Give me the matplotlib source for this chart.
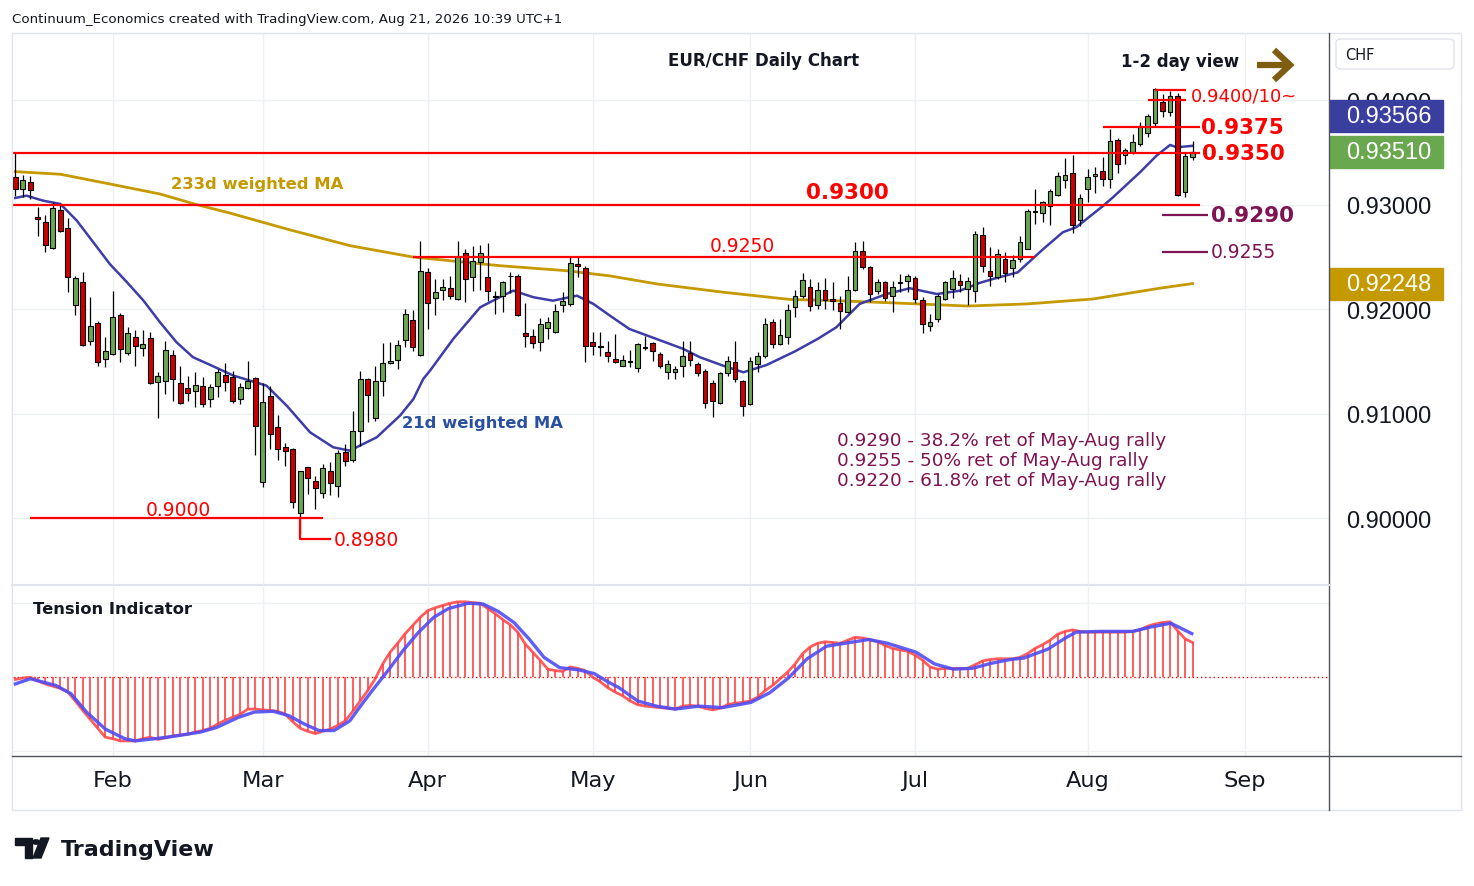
import numpy as np
import pandas as pd
import matplotlib
matplotlib.use("Agg")
import matplotlib.pyplot as plt
from matplotlib.patches import Rectangle, FancyBboxPatch, Polygon, Circle
from matplotlib.lines import Line2D

W, H = 1474, 887

# ---- daily EUR/CHF candles, 14 Jan .. 21 Aug 2026 ----
dates = pd.bdate_range("2026-01-14", "2026-08-21")

opens = [
    0.93265, 0.93153, 0.93217, 0.92882, 0.92840, 0.92586, 0.92949, 0.92777, 0.92043, 0.92266,
    0.91698, 0.91868, 0.91526, 0.91574, 0.91944, 0.91584, 0.91734, 0.91629, 0.91724, 0.91303,
    0.91316, 0.91562, 0.91294, 0.91249, 0.91220, 0.91271, 0.91143, 0.91271, 0.91373, 0.91351,
    0.91143, 0.91246, 0.91344, 0.90346, 0.91169, 0.90873, 0.90681, 0.90665, 0.90050, 0.90490,
    0.90356, 0.90241, 0.90452, 0.90308, 0.90633, 0.90560, 0.90834, 0.91332, 0.90959, 0.91313,
    0.91485, 0.91517, 0.91708, 0.91899, 0.91567, 0.92356, 0.92107, 0.92184, 0.92203, 0.92100,
    0.92538, 0.92308, 0.92452, 0.92308, 0.92125, 0.92126, 0.92320, 0.92318, 0.91772, 0.91749,
    0.91686, 0.91820, 0.91782, 0.92043, 0.92053, 0.92433, 0.92394, 0.91686, 0.91645, 0.91590,
    0.91526, 0.91462, 0.91500, 0.91437, 0.91640, 0.91677, 0.91571, 0.91399, 0.91399, 0.91456,
    0.91581, 0.91476, 0.91414, 0.91299, 0.91102, 0.91392, 0.91500, 0.91319, 0.91093, 0.91476,
    0.91558, 0.91877, 0.91667, 0.91734, 0.92021, 0.92132, 0.92212, 0.92043, 0.92189, 0.92100,
    0.92062, 0.91973, 0.92189, 0.92563, 0.92404, 0.92180, 0.92260, 0.92126, 0.92258, 0.92270,
    0.92299, 0.92094, 0.91839, 0.91909, 0.92100, 0.92196, 0.92276, 0.92196, 0.92180, 0.92713,
    0.92371, 0.92308, 0.92483, 0.92394, 0.92483, 0.92579, 0.92938, 0.92923, 0.92988, 0.93096,
    0.93239, 0.93309, 0.92859, 0.93153, 0.93275, 0.93328, 0.93249, 0.93625, 0.93479, 0.93504,
    0.93584, 0.93689, 0.93785, 0.93983, 0.93887, 0.94040, 0.93122, 0.93456]

highs = [
    0.93498, 0.93287, 0.93280, 0.92978, 0.92904, 0.93032, 0.93010, 0.92873, 0.92323, 0.92356,
    0.92117, 0.91893, 0.91734, 0.92174, 0.91966, 0.91830, 0.91807, 0.91807, 0.91787, 0.91399,
    0.91698, 0.91615, 0.91456, 0.91361, 0.91399, 0.91351, 0.91287, 0.91430, 0.91488, 0.91414,
    0.91297, 0.91504, 0.91351, 0.91297, 0.91271, 0.90990, 0.90722, 0.90672, 0.90452, 0.90496,
    0.90409, 0.90521, 0.90538, 0.90658, 0.90713, 0.91026, 0.91409, 0.91344, 0.91462, 0.91679,
    0.91686, 0.91708, 0.92005, 0.91995, 0.92658, 0.92394, 0.92292, 0.92292, 0.92318, 0.92653,
    0.92579, 0.92611, 0.92617, 0.92636, 0.92180, 0.92276, 0.92356, 0.92340, 0.92062, 0.91813,
    0.91916, 0.91925, 0.92053, 0.92170, 0.92500, 0.92500, 0.92413, 0.91782, 0.91782, 0.91701,
    0.91766, 0.91567, 0.91612, 0.91679, 0.91749, 0.91686, 0.91590, 0.91517, 0.91462, 0.91696,
    0.91701, 0.91495, 0.91430, 0.91328, 0.91404, 0.91558, 0.91701, 0.91328, 0.91543, 0.91597,
    0.91916, 0.91909, 0.91909, 0.92053, 0.92187, 0.92349, 0.92292, 0.92260, 0.92299, 0.92260,
    0.92132, 0.92323, 0.92643, 0.92658, 0.92419, 0.92292, 0.92276, 0.92276, 0.92340, 0.92340,
    0.92323, 0.92117, 0.91957, 0.92148, 0.92276, 0.92378, 0.92340, 0.92308, 0.92754, 0.92792,
    0.92595, 0.92579, 0.92547, 0.92519, 0.92706, 0.92962, 0.93153, 0.93041, 0.93153, 0.93313,
    0.93450, 0.93481, 0.93105, 0.93345, 0.93361, 0.93456, 0.93727, 0.93638, 0.93543, 0.93679,
    0.93791, 0.93871, 0.94117, 0.94062, 0.94094, 0.94072, 0.93498, 0.93610]

lows = [
    0.93089, 0.93074, 0.93057, 0.92706, 0.92553, 0.92579, 0.92739, 0.92165, 0.91947, 0.91650,
    0.91660, 0.91462, 0.91447, 0.91560, 0.91495, 0.91565, 0.91456, 0.91552, 0.91287, 0.90959,
    0.91188, 0.91127, 0.91100, 0.91127, 0.91064, 0.91064, 0.91064, 0.91160, 0.91217, 0.91105,
    0.91096, 0.91240, 0.90610, 0.90298, 0.90665, 0.90563, 0.90499, 0.90097, 0.89850, 0.90234,
    0.90091, 0.90193, 0.90228, 0.90203, 0.90499, 0.90538, 0.90691, 0.90920, 0.90936, 0.91175,
    0.91480, 0.91431, 0.91638, 0.91600, 0.91558, 0.91813, 0.91947, 0.92094, 0.92100, 0.92095,
    0.92069, 0.92180, 0.92189, 0.92084, 0.91957, 0.91979, 0.92158, 0.91935, 0.91638, 0.91629,
    0.91606, 0.91718, 0.91778, 0.91973, 0.92031, 0.92308, 0.91500, 0.91565, 0.91558, 0.91500,
    0.91488, 0.91458, 0.91447, 0.91399, 0.91615, 0.91510, 0.91437, 0.91335, 0.91335, 0.91351,
    0.91462, 0.91366, 0.91054, 0.90969, 0.91095, 0.91366, 0.91303, 0.90978, 0.91085, 0.91399,
    0.91533, 0.91629, 0.91660, 0.91670, 0.91925, 0.92107, 0.91983, 0.92005, 0.92005, 0.91998,
    0.91813, 0.91965, 0.92180, 0.92388, 0.92075, 0.92148, 0.92084, 0.91979, 0.92165, 0.92165,
    0.92062, 0.91778, 0.91797, 0.91877, 0.92094, 0.92110, 0.92170, 0.92043, 0.92075, 0.92362,
    0.92222, 0.92292, 0.92260, 0.92308, 0.92452, 0.92575, 0.92818, 0.92834, 0.92809, 0.93089,
    0.93160, 0.92732, 0.92802, 0.93026, 0.93112, 0.93179, 0.93160, 0.93303, 0.93392, 0.93488,
    0.93567, 0.93648, 0.93744, 0.93839, 0.93849, 0.93083, 0.93074, 0.93434]

closes = [
    0.93153, 0.93242, 0.93141, 0.92863, 0.92617, 0.92968, 0.92751, 0.92311, 0.92299, 0.91660,
    0.91839, 0.91498, 0.91600, 0.91925, 0.91619, 0.91775, 0.91648, 0.91667, 0.91294, 0.91361,
    0.91609, 0.91335, 0.91105, 0.91201, 0.91280, 0.91093, 0.91255, 0.91399, 0.91303, 0.91127,
    0.91255, 0.91313, 0.90882, 0.91112, 0.90806, 0.90662, 0.90649, 0.90155, 0.90452, 0.90385,
    0.90289, 0.90480, 0.90340, 0.90624, 0.90547, 0.90834, 0.91332, 0.91182, 0.91313, 0.91485,
    0.91504, 0.91657, 0.91954, 0.91638, 0.92366, 0.92062, 0.92165, 0.92212, 0.92126, 0.92500,
    0.92292, 0.92467, 0.92538, 0.92174, 0.92120, 0.92260, 0.92325, 0.91950, 0.91743, 0.91679,
    0.91858, 0.91877, 0.91983, 0.92078, 0.92445, 0.92413, 0.91654, 0.91648, 0.91643, 0.91558,
    0.91495, 0.91517, 0.91505, 0.91667, 0.91636, 0.91600, 0.91456, 0.91476, 0.91431, 0.91558,
    0.91517, 0.91390, 0.91102, 0.91124, 0.91390, 0.91504, 0.91335, 0.91074, 0.91504, 0.91558,
    0.91864, 0.91670, 0.91753, 0.91992, 0.92132, 0.92285, 0.92031, 0.92189, 0.92094, 0.92084,
    0.91983, 0.92189, 0.92563, 0.92404, 0.92145, 0.92260, 0.92107, 0.92212, 0.92262, 0.92323,
    0.92100, 0.91861, 0.91877, 0.92126, 0.92260, 0.92299, 0.92234, 0.92270, 0.92722, 0.92413,
    0.92318, 0.92531, 0.92349, 0.92477, 0.92643, 0.92940, 0.92934, 0.93026, 0.93131, 0.93280,
    0.93290, 0.92809, 0.93064, 0.93265, 0.93294, 0.93249, 0.93610, 0.93392, 0.93526, 0.93600,
    0.93759, 0.93855, 0.94110, 0.93897, 0.94040, 0.93099, 0.93472, 0.93510]

# moving averages at bar offsets
ma21_x = [0, 1.5, 3.7, 6, 8.2, 10.4, 12.6, 14.9, 17.1, 19.3, 21.5, 23.7, 26, 29.1, 33.5,
          36.2, 39.3, 42.4, 44.6, 48.2, 51.3, 53.1, 54.4, 55.3, 58.4, 62, 64.6, 66.4, 69.1,
          71.7, 74.9, 77.1, 79.3, 81.9, 85.5, 89.1, 91.3, 94.4, 97.1, 100.2, 104, 107, 109.5,
          112.6, 116.2, 119.3, 122.9, 126, 128.6, 130.4, 133.7, 137.1, 139.7, 141.5, 145.1,
          146.4, 150, 152.2, 154, 154.9, 157]
ma21 = [0.93067, 0.93089, 0.93041, 0.93010, 0.92850, 0.92643, 0.92435, 0.92260, 0.92084,
        0.91877, 0.91686, 0.91543, 0.91469, 0.91367, 0.91271, 0.91079, 0.90825, 0.90681,
        0.90649, 0.90777, 0.90984, 0.91144, 0.91335, 0.91414, 0.91718, 0.92021, 0.92117,
        0.92180, 0.92117, 0.92084, 0.92132, 0.92053, 0.91941, 0.91813, 0.91718, 0.91622,
        0.91543, 0.91462, 0.91399, 0.91469, 0.91600, 0.91718, 0.91830, 0.92053, 0.92148,
        0.92203, 0.92148, 0.92180, 0.92254, 0.92292, 0.92356, 0.92579, 0.92739, 0.92787,
        0.92993, 0.93074, 0.93313, 0.93472, 0.93574, 0.93552, 0.93566]
ma233_x = [0, 6, 12.6, 19.3, 24.2, 28.6, 36.2, 44.6, 53, 64.6, 73.5, 79.3, 85.6, 94.4,
           103.3, 109.5, 117.4, 127, 134.9, 143.7, 152.6, 157]
ma233 = [0.93319, 0.93294, 0.93201, 0.93105, 0.93003, 0.92923, 0.92770, 0.92611, 0.92502,
         0.92419, 0.92371, 0.92321, 0.92244, 0.92165, 0.92096, 0.92084, 0.92062, 0.92033,
         0.92053, 0.92100, 0.92203, 0.92248]

# tension indicator (one value per bar) and its signal line
tension = [
    -3, -1, 0, -5, -9, -12, -15, -20, -32, -45, -57, -69, -81, -83, -86, -86, -86, -83, -81, -84,
    -82, -79, -78, -77, -74, -72, -69, -63, -58, -54, -50, -43, -43, -44, -45, -46, -50, -60, -69, -73,
    -76, -73, -70, -65, -59, -46, -32, -18, -2, 18, 34, 46, 59, 70, 81, 90, 94, 97, 100, 102,
    102, 101, 100, 93, 86, 78, 71, 61, 45, 34, 23, 11, 9, 8, 14, 12, 9, 0, -6, -14,
    -20, -25, -32, -37, -39, -40, -41, -42, -43, -39, -38, -39, -42, -44, -42, -37, -35, -34, -32, -27,
    -18, -11, -2, 7, 18, 32, 41, 46, 48, 47, 46, 50, 54, 53, 51, 48, 43, 39, 37, 35,
    30, 23, 14, 11, 12, 12, 12, 12, 17, 22, 24, 25, 25, 25, 27, 32, 39, 44, 50, 58,
    62, 64, 62, 61, 61, 61, 61, 61, 61, 62, 64, 69, 72, 74, 75, 63, 52, 47]
signal_x = [0, 2, 5.4, 7.4, 9.5, 12, 14.6, 16, 18.6, 21, 24.7, 26.8, 29.8, 31.9, 34.4, 36.5,
            38.5, 40.5, 42.5, 44.6, 46.1, 47.6, 49.7, 51.7, 53.8, 55.8, 57.8, 60.4, 62.4, 64.4,
            66.5, 68.5, 70.5, 72.6, 75.1, 77.2, 79, 80.5, 83, 85.5, 88, 91.2, 94.3, 98.1, 100.6,
            103.1, 105.6, 108.2, 111.3, 113.8, 116.3, 120.1, 122.6, 125.1, 127.6, 130.2, 132.7,
            134.5, 137.7, 140.2, 141.5, 144.6, 149, 151.5, 154.1, 156.9]
signal = [-9, -2, -11, -22, -47, -70, -83, -86, -83, -80, -74, -68, -54, -47, -46, -52,
          -63, -72, -72, -59, -38, -18, 9, 36, 61, 81, 93, 100, 99, 89,
          74, 52, 27, 13, 10, 5, -6, -14, -32, -39, -43, -39, -41, -34, -21,
          -1, 25, 42, 47, 51, 46, 34, 18, 11, 12, 19, 24,
          26, 38, 54, 61, 62, 62, 68, 73, 59]

# drawn levels: price, first bar, last bar
red_levels = [0.9410, 0.9400, 0.9375, 0.9350, 0.9300, 0.9250, 0.9000]
red_from = [152, 151, 145, -0.4, -0.4, 53, 2]
red_to = [156.1, 156.1, 158, 158, 158, 136, 41]
fib_levels = [0.9290, 0.9255]
low_bar, low_level = 38, 0.8980

GREEN = "#6aa84f"
RED = "#cc0000"
BLUE_MA = "#3d3da8"
GOLD = "#c49a00"
PURPLE = "#7f1452"
GRID = "#eef0f4"

fig = plt.figure(figsize=(W / 100, H / 100), dpi=100)
ax = fig.add_axes([13 / W, 1 - 585 / H, 1316 / W, 550 / H])
axt = fig.add_axes([13 / W, 1 - 757 / H, 1316 / W, 169 / H], sharex=ax)

x = np.arange(len(dates))
o = np.array(opens)
c = np.array(closes)
hi = np.maximum(np.array(highs), np.maximum(o, c))
lo = np.minimum(np.array(lows), np.minimum(o, c))
up = c >= o

ax.plot(ma233_x, ma233, color=GOLD, lw=2.0, zorder=2)
ax.plot(ma21_x, ma21, color=BLUE_MA, lw=1.8, zorder=2)
ax.vlines(x, lo, hi, color="black", lw=0.9, zorder=3)
ax.bar(x, np.maximum(np.abs(c - o), 0.00003), bottom=np.minimum(o, c), width=0.62,
       color=np.where(up, GREEN, RED), edgecolor="black", linewidth=0.8, zorder=4)

ax.hlines(red_levels, red_from, red_to, color="#ff0000", lw=1.6, zorder=5)
ax.hlines(fib_levels, 152.9, 159.1, color=PURPLE, lw=1.6, zorder=5)
ax.plot([low_bar, low_bar, low_bar + 4], [0.9000, low_level, low_level], color="#ff0000", lw=1.6, zorder=5)

# level labels
ax.text(156.8, 0.94045, "0.9400/10~", color="#ff0000", fontsize=13, va="center")
ax.text(158.1, 0.9375, "0.9375", color="#ff0000", fontsize=15.5, weight="bold", va="center")
ax.text(158.2, 0.9350, "0.9350", color="#ff0000", fontsize=15.5, weight="bold", va="center")
ax.text(159.4, 0.9290, "0.9290", color=PURPLE, fontsize=15.5, weight="bold", va="center")
ax.text(159.4, 0.9255, "0.9255", color=PURPLE, fontsize=13.5, va="center")
ax.text(111, 0.93125, "0.9300", color="#ff0000", fontsize=15.5, weight="bold", ha="center", va="center")
ax.text(97, 0.92608, "0.9250", color="#ff0000", fontsize=13.5, ha="center", va="center")
ax.text(21.7, 0.90086, "0.9000", color="#ff0000", fontsize=13.5, ha="center", va="center")
ax.text(42.5, 0.89795, "0.8980", color="#ff0000", fontsize=13.5, va="center")
ax.text(20.8, 0.93201, "233d weighted MA", color=GOLD, fontsize=11.8, weight="bold", va="center")
ax.text(51.6, 0.90923, "21d weighted MA", color="#2a50a0", fontsize=11.8, weight="bold", va="center")
fib_notes = ["0.9290 - 38.2% ret of May-Aug rally",
             "0.9255 - 50% ret of May-Aug rally",
             "0.9220 - 61.8% ret of May-Aug rally"]
for note, yv in zip(fib_notes, [0.90751, 0.90560, 0.90368]):
    ax.text(109.6, yv, note, color=PURPLE, fontsize=13.3, va="center")

ax.text(0.5707, 0.9527, "EUR/CHF Daily Chart", transform=ax.transAxes, fontsize=12,
        weight="bold", ha="center", va="center", color="#131722")
ax.text(0.8868, 0.9509, "1-2 day view", transform=ax.transAxes, fontsize=12,
        weight="bold", ha="center", va="center", color="#131722")

# tension panel
axt.vlines(x, 0, tension, color="#ff5252", lw=1.3, zorder=2)
axt.plot(x, tension, color="#ff4040", lw=2.0, alpha=0.85, zorder=3)
axt.plot(signal_x, signal, color="#4d4df5", lw=2.4, alpha=0.9, zorder=4)
axt.axhline(0, color="#ff0000", lw=1.0, ls=(0, (1, 2)), zorder=1)
axt.text(0.0152, 0.872, "Tension Indicator", transform=axt.transAxes, fontsize=11.8,
         weight="bold", va="center", color="#131722")

# axes setup
all_days = pd.bdate_range("2026-01-14", "2026-09-30")
month_idx = [i for i in range(1, len(all_days)) if all_days[i].month != all_days[i - 1].month]
ax.set_xlim(-0.31, 175.2)
ax.set_ylim(0.89373, 0.94636)
axt.set_ylim(-106.4, 122)
ax.set_xticks(month_idx)
axt.set_xticklabels([all_days[i].strftime("%b") for i in month_idx])
ax.set_yticks([0.90, 0.91, 0.92, 0.93, 0.94])
ax.set_yticklabels(["%.5f" % v for v in [0.90, 0.91, 0.92, 0.93, 0.94]])
ax.yaxis.tick_right()
ax.tick_params(axis="y", length=0, pad=12, labelsize=17, labelcolor="#131722")
for lab in ax.get_yticklabels():
    lab.set_family("Liberation Sans")
ax.tick_params(axis="x", length=0, labelbottom=False)
axt.set_yticks([-100, 100])
axt.tick_params(axis="y", length=0, labelleft=False, labelright=False)
axt.tick_params(axis="x", length=0, pad=10, labelsize=16.2, labelcolor="#131722")
for a in (ax, axt):
    a.grid(True, color=GRID, lw=1)
    a.set_axisbelow(True)
    for s in a.spines.values():
        s.set_visible(False)

# frame and separators (figure pixels)
def fx(px):
    return px / W

def fy(py):
    return 1 - py / H

fig.add_artist(Rectangle((fx(12), fy(811)), fx(1449), (811 - 34) / H, fill=False,
                         edgecolor="#e0e3eb", lw=1))
fig.add_artist(Line2D([fx(1329), fx(1329)], [fy(34), fy(811)], color="#50535e", lw=1))
fig.add_artist(Line2D([fx(12), fx(1461)], [fy(757), fy(757)], color="#50535e", lw=1))
fig.add_artist(Line2D([fx(12), fx(1329)], [fy(586), fy(586)], color="#e0e3eb", lw=1.5))

# value boxes on the price scale
def box(val, color, cy=None):
    if cy is None:
        cy = ax.transData.transform((0, val))[1] / H
    fig.add_artist(Rectangle((fx(1330), cy - 16 / H), 113 / W, 32 / H, color=color))
    fig.text(fx(1389), cy, "%.5f" % val, color="white", fontsize=17, family="Liberation Sans",
             ha="center", va="center")
    return cy

box(ma233[-1], GOLD)
close_y = box(closes[-1], GREEN)
box(ma21[-1], "#3a3f9f", cy=close_y + 36 / H)   # pushed above the close label

fig.add_artist(FancyBboxPatch((fx(1336), fy(70)), 118 / W, 30 / H,
                              boxstyle="round,pad=0,rounding_size=0.004",
                              facecolor="white", edgecolor="#e0e3eb", lw=1))
fig.text(fx(1345), fy(55), "CHF", fontsize=10.5, va="center", color="#131722")

# view arrow
arrow_col = "#7e5c10"
fig.add_artist(Line2D([fx(1257), fx(1289)], [fy(66), fy(66)], color=arrow_col, lw=4.5,
                      solid_capstyle="butt"))
fig.add_artist(Line2D([fx(1274), fx(1290), fx(1274)], [fy(51), fy(66), fy(81)], color=arrow_col,
                      lw=4.5, solid_joinstyle="miter", solid_capstyle="butt"))

# header and logo
fig.text(fx(12), fy(19), "Continuum_Economics created with TradingView.com, Aug 21, 2026 10:39 UTC+1",
         fontsize=9.6, va="center", color="#131722")
fig.add_artist(Polygon([(fx(15), fy(839)), (fx(32), fy(839)), (fx(32), fy(859)), (fx(25), fy(859)),
                        (fx(25), fy(846)), (fx(15), fy(846))], closed=True, color="#131722"))
fig.add_artist(Circle((fx(36), fy(843)), 3.6 / W, color="#131722"))
fig.add_artist(Polygon([(fx(41), fy(839)), (fx(49), fy(839)), (fx(41), fy(859)), (fx(33), fy(859))],
                       closed=True, color="#131722"))
fig.text(fx(61), fy(850), "TradingView", fontsize=15.9, weight="bold", va="center", color="#131722")

fig.savefig("out.png", dpi=100)
